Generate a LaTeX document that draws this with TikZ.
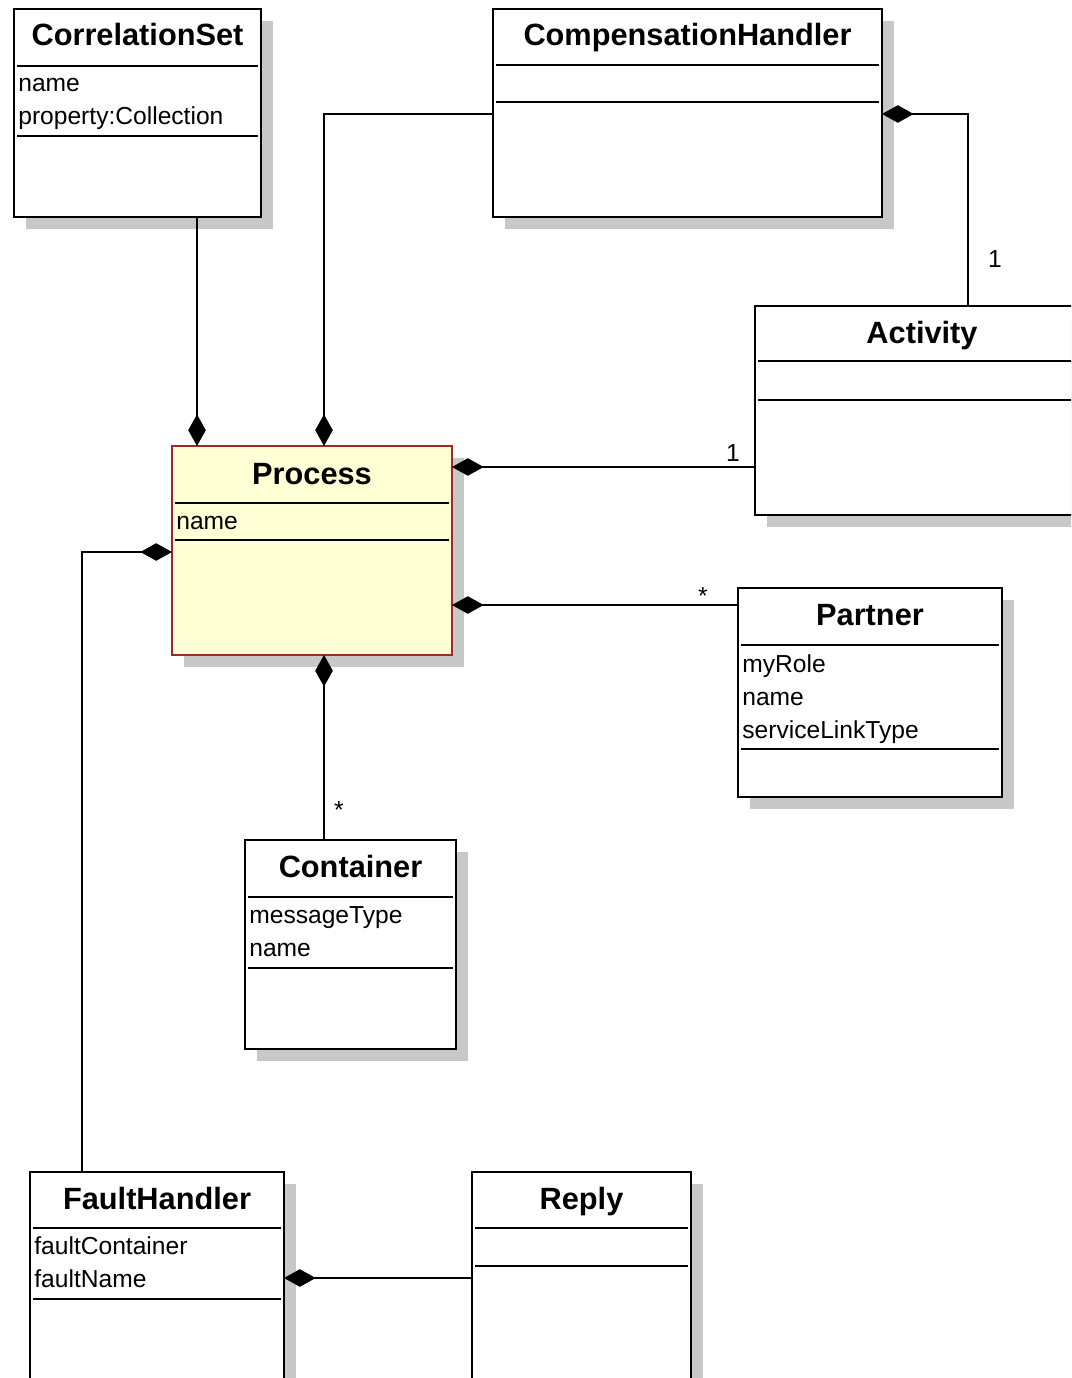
\documentclass[tikz,border=0pt]{standalone}
\usepackage{fontspec}
\setmainfont{Liberation Sans}
\usetikzlibrary{arrows.meta,fit,shadows,calc}

\definecolor{shadowgray}{HTML}{C8C8C8}
\definecolor{procfill}{HTML}{FFFFD5}
\definecolor{procline}{HTML}{A02828}

\tikzset{
  classbox/.style={draw=black, line width=1.1pt, fill=white, inner sep=0pt, outer sep=0pt,
    drop shadow={shadow xshift=0.24cm, shadow yshift=-0.24cm, fill=shadowgray, opacity=1}},
  classname/.style={font=\fontsize{17.5}{20}\selectfont\bfseries, anchor=base, inner sep=0pt},
  attrib/.style={font=\fontsize{14}{16}\selectfont, anchor=base west, inner sep=0pt},
  mult/.style={font=\fontsize{14}{16}\selectfont, anchor=base, inner sep=0pt},
  sepline/.style={line width=0.85pt},
  compose/.style={{Diamond[length=18pt,width=10pt]}-, line width=0.85pt}
}

\begin{document}
\begin{tikzpicture}[x=0.02cm, y=-0.02cm]
   \useasboundingbox (0,0) rectangle (1071,1378);
   \clip (0,0) rectangle (1071,1378);
   \fill[white] (0,0) rectangle (1071,1378);

   % class boxes
   \node[classbox, fit={(14,9) (261,217)}] (cset) {};
   \node[classbox, fit={(493,9) (882,217)}] (comph) {};
   \node[classbox, fit={(755,306) (1089,515)}] (act) {};
   \node[classbox, draw=procline, fill=procfill, fit={(172,446) (452,655)}] (proc) {};
   \node[classbox, fit={(738,588) (1002,797)}] (part) {};
   \node[classbox, fit={(245,840) (456,1049)}] (cont) {};
   \node[classbox, fit={(30,1172) (284,1420)}] (fh) {};
   \node[classbox, fit={(472,1172) (691,1420)}] (reply) {};

   % compartments
   \draw[sepline] (17,66) -- (258,66);
   \draw[sepline] (17,136) -- (258,136);
   \draw[sepline] (496,65) -- (879,65);
   \draw[sepline] (496,102) -- (879,102);
   \draw[sepline] (758,361) -- (1089,361);
   \draw[sepline] (758,400) -- (1089,400);
   \draw[sepline] (175,503) -- (449,503);
   \draw[sepline] (175,540) -- (449,540);
   \draw[sepline] (741,645) -- (999,645);
   \draw[sepline] (741,749) -- (999,749);
   \draw[sepline] (248,897) -- (453,897);
   \draw[sepline] (248,968) -- (453,968);
   \draw[sepline] (33,1228) -- (281,1228);
   \draw[sepline] (33,1299) -- (281,1299);
   \draw[sepline] (475,1228) -- (688,1228);
   \draw[sepline] (475,1266) -- (688,1266);

   % names and attributes
   \node[classname] (cset-t) at ($(cset.north)+(0,37)$) {CorrelationSet};
   \node[attrib] (cset-a1) at (18,92) {name};
   \node[attrib] (cset-a2) at (18,125) {property:Collection};
   \node[classname] (comph-t) at ($(comph.north)+(0,37)$) {CompensationHandler};
   \node[classname] (act-t) at (922,343) {Activity};
   \node[classname] (proc-t) at ($(proc.north)+(0,38)$) {Process};
   \node[attrib] (proc-a1) at (176,529) {name};
   \node[classname] (part-t) at ($(part.north)+(0,37)$) {Partner};
   \node[attrib] (part-a1) at (742,672) {myRole};
   \node[attrib] (part-a2) at (742,705) {name};
   \node[attrib] (part-a3) at (742,738) {serviceLinkType};
   \node[classname] (cont-t) at ($(cont.north)+(0,37)$) {Container};
   \node[attrib] (cont-a1) at (249,923) {messageType};
   \node[attrib] (cont-a2) at (249,956) {name};
   \node[classname] (fh-t) at ($(fh.north)+(0,37)$) {FaultHandler};
   \node[attrib] (fh-a1) at (34,1254) {faultContainer};
   \node[attrib] (fh-a2) at (34,1287) {faultName};
   \node[classname] (reply-t) at ($(reply.north)+(0,37)$) {Reply};

   % compositions
   \coordinate (cs-out) at (197,217);
   \coordinate (bend-ch) at (324,114);
   \coordinate (bend-act) at (968,114);
   \coordinate (p-act) at (452,467);
   \coordinate (p-part) at (452,605);
   \coordinate (cont-in) at (324,840);
   \coordinate (bend-fh) at (82,552);
   \coordinate (fh-out) at (284,1278);
   \draw[compose] (proc.north -| cs-out) -- (cs-out);
   \draw[compose] (proc.north -| bend-ch) -- (bend-ch) -- (comph.west |- bend-ch);
   \draw[compose] (comph.east |- bend-act) -- (bend-act) -- (act.north -| bend-act);
   \draw[compose] (proc.east |- p-act) -- (act.west |- p-act);
   \draw[compose] (proc.east |- p-part) -- (part.west |- p-part);
   \draw[compose] (proc.south -| cont-in) -- (cont-in);
   \draw[compose] (proc.west |- bend-fh) -- (bend-fh) -- (fh.north -| bend-fh);
   \draw[compose] (fh.east |- fh-out) -- (reply.west |- fh-out);

   % multiplicities
   \node[mult] (m-act1) at (995,268) {1};
   \node[mult] (m-act2) at (733,461) {1};
   \node[mult] (m-part) at (703,604) {*};
   \node[mult] (m-cont) at (339,818) {*};
\end{tikzpicture}
\end{document}
